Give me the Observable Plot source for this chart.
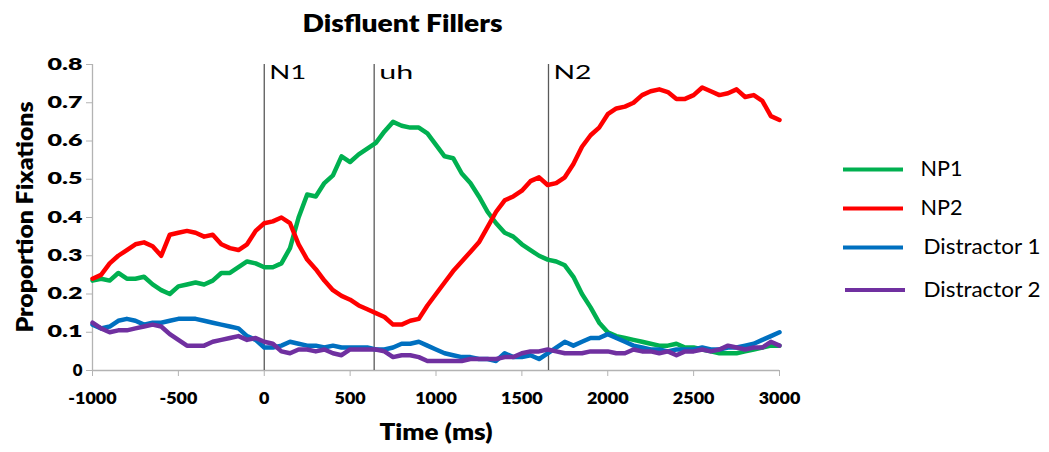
<!DOCTYPE html>
<html>
<head>
<meta charset="utf-8">
<script src="https://cdn.jsdelivr.net/npm/d3@7"></script>
<script src="https://cdn.jsdelivr.net/npm/@observablehq/plot@0.6"></script>
<style>
  html, body { margin: 0; padding: 0; background: #fff; }
  svg { display: block; }
</style>
</head>
<body>
<div id="chart"></div>
<script>
// ---- Data ----
const times = [
  -1000, -950, -900, -850, -800, -750, -700, -650, -600, -550,
  -500, -450, -400, -350, -300, -250, -200, -150, -100, -50,
  0, 50, 100, 150, 200, 250, 300, 350, 400, 450,
  500, 550, 600, 650, 700, 750, 800, 850, 900, 950,
  1000, 1050, 1100, 1150, 1200, 1250, 1300, 1350, 1400, 1450,
  1500, 1550, 1600, 1650, 1700, 1750, 1800, 1850, 1900, 1950,
  2000, 2050, 2100, 2150, 2200, 2250, 2300, 2350, 2400, 2450,
  2500, 2550, 2600, 2650, 2700, 2750, 2800, 2850, 2900, 2950,
  3000
];
const np1 = [
  0.235, 0.24, 0.235, 0.255, 0.24, 0.24, 0.245, 0.225, 0.21, 0.20,
  0.22, 0.225, 0.23, 0.225, 0.235, 0.255, 0.255, 0.27, 0.285, 0.28,
  0.27, 0.27, 0.28, 0.32, 0.40, 0.46, 0.455, 0.49, 0.51, 0.56,
  0.545, 0.565, 0.58, 0.595, 0.625, 0.65, 0.64, 0.635, 0.635, 0.62,
  0.59, 0.56, 0.555, 0.515, 0.49, 0.455, 0.415, 0.385, 0.36, 0.35,
  0.33, 0.315, 0.30, 0.29, 0.285, 0.275, 0.245, 0.20, 0.165, 0.125,
  0.10, 0.09, 0.085, 0.08, 0.075, 0.07, 0.065, 0.065, 0.07, 0.06,
  0.06, 0.055, 0.05, 0.045, 0.045, 0.045, 0.05, 0.055, 0.06, 0.065,
  0.065
];
const np2 = [
  0.24, 0.25, 0.28, 0.30, 0.315, 0.33, 0.335, 0.325, 0.30, 0.355,
  0.36, 0.365, 0.36, 0.35, 0.355, 0.33, 0.32, 0.315, 0.33, 0.365,
  0.385, 0.39, 0.40, 0.385, 0.33, 0.29, 0.265, 0.235, 0.21, 0.195,
  0.185, 0.17, 0.16, 0.15, 0.14, 0.12, 0.12, 0.13, 0.135, 0.17,
  0.20, 0.23, 0.26, 0.285, 0.31, 0.335, 0.375, 0.415, 0.445, 0.455,
  0.47, 0.495, 0.505, 0.485, 0.49, 0.505, 0.54, 0.585, 0.615, 0.635,
  0.67, 0.685, 0.69, 0.70, 0.72, 0.73, 0.735, 0.728, 0.71, 0.71,
  0.72, 0.74, 0.73, 0.72, 0.725, 0.735, 0.715, 0.72, 0.705, 0.665,
  0.655
];
const distractor1 = [
  0.12, 0.11, 0.115, 0.13, 0.135, 0.13, 0.12, 0.125, 0.125, 0.13,
  0.135, 0.135, 0.135, 0.13, 0.125, 0.12, 0.115, 0.11, 0.09, 0.08,
  0.06, 0.06, 0.065, 0.075, 0.07, 0.065, 0.065, 0.06, 0.065, 0.06,
  0.06, 0.06, 0.06, 0.055, 0.055, 0.06, 0.07, 0.07, 0.075, 0.065,
  0.055, 0.045, 0.04, 0.035, 0.035, 0.03, 0.03, 0.025, 0.045, 0.035,
  0.035, 0.04, 0.03, 0.045, 0.06, 0.075, 0.065, 0.075, 0.085, 0.085,
  0.095, 0.085, 0.075, 0.065, 0.06, 0.055, 0.055, 0.05, 0.055, 0.055,
  0.055, 0.06, 0.055, 0.055, 0.06, 0.06, 0.065, 0.07, 0.08, 0.09,
  0.10
];
const distractor2 = [
  0.125, 0.11, 0.10, 0.105, 0.105, 0.11, 0.115, 0.12, 0.115, 0.095,
  0.08, 0.065, 0.065, 0.065, 0.075, 0.08, 0.085, 0.09, 0.08, 0.085,
  0.075, 0.07, 0.05, 0.045, 0.055, 0.055, 0.05, 0.055, 0.045, 0.04,
  0.055, 0.055, 0.055, 0.055, 0.05, 0.035, 0.04, 0.04, 0.035, 0.025,
  0.025, 0.025, 0.025, 0.025, 0.03, 0.03, 0.03, 0.03, 0.035, 0.035,
  0.045, 0.05, 0.05, 0.055, 0.05, 0.045, 0.045, 0.045, 0.05, 0.05,
  0.05, 0.045, 0.045, 0.055, 0.05, 0.05, 0.045, 0.05, 0.04, 0.05,
  0.05, 0.055, 0.05, 0.055, 0.065, 0.06, 0.055, 0.06, 0.06, 0.075,
  0.065
];
const seriesNames = ["NP1", "NP2", "Distractor 1", "Distractor 2"];
const seriesColors = ["#00B050", "#FF0000", "#0070C0", "#7030A0"];
const markerTimes = [0, 640, 1655];
const markerLabels = ["N1", "uh", "N2"];
const xTicks = [-1000, -500, 0, 500, 1000, 1500, 2000, 2500, 3000];
const yTicks = [0, 0.1, 0.2, 0.3, 0.4, 0.5, 0.6, 0.7, 0.8];
const titleText = "Disfluent Fillers";
const xLabel = "Time (ms)";
const yLabel = "Proportion Fixations";

// ---- Table for Plot ----
const seriesValues = [np1, np2, distractor1, distractor2];
const rows = seriesNames.flatMap((name, k) =>
  times.map((t, i) => ({ t, v: seriesValues[k][i], series: name }))
);

const FONT = "Lato, 'Open Sans', sans-serif";
const chart = Plot.plot({
  width: 1049,
  height: 452,
  marginLeft: 92,
  marginRight: 270,
  marginTop: 64,
  marginBottom: 82,
  style: { fontFamily: FONT, fontSize: "16px", fontWeight: "800", color: "#000", background: "#fff", overflow: "visible" },
  x: { domain: [-1000, 3000] },
  y: { domain: [0, 0.8] },
  color: { domain: seriesNames, range: seriesColors },
  marks: [
    Plot.axisX({ ticks: xTicks, tickFormat: d => String(d), tickSize: 6, tickPadding: 16, stroke: "#b3b3b3", fill: "#000", label: null }),
    Plot.axisY({ ticks: yTicks, tickFormat: d => String(d), tickSize: 6, tickPadding: 4, stroke: "#b3b3b3", fill: "#000", label: null }),
    Plot.ruleY([0], { stroke: "#b3b3b3", strokeWidth: 1.3 }),
    Plot.ruleX([-1000], { stroke: "#b3b3b3", strokeWidth: 1.3 }),
    Plot.ruleX(markerTimes, { stroke: "#595959", strokeWidth: 1.3 }),
    Plot.text(markerTimes, {
      x: d => d, y: () => 0.8, text: (d, i) => markerLabels[i],
      textAnchor: "start", lineAnchor: "top", dx: 5, dy: 0.5,
      fontSize: 19, fontWeight: "normal", fill: "#000"
    }),
    Plot.line(rows, { x: "t", y: "v", z: "series", stroke: "series", strokeWidth: 4.5, curve: "linear" })
  ]
});

document.getElementById("chart").appendChild(chart);
const svg = d3.select(chart);

// Horizontal stretch of tick labels to match the reference's wide lettering
svg.selectAll('g[aria-label="x-axis tick label"] text').each(function () {
  const w = this.getComputedTextLength();
  d3.select(this).attr("textLength", w * 1.12).attr("lengthAdjust", "spacingAndGlyphs");
});
svg.selectAll('g[aria-label="y-axis tick label"] text').each(function () {
  const w = this.getComputedTextLength();
  const target = this.textContent.length > 1 ? 35 : w * 1.05;
  d3.select(this).attr("textLength", target).attr("lengthAdjust", "spacingAndGlyphs");
});
const markerWidths = [37, 34, 38];
svg.selectAll('g[aria-label="text"] text').each(function (d, i) {
  d3.select(this).attr("textLength", markerWidths[i]).attr("lengthAdjust", "spacingAndGlyphs");
});

// Title
svg.append("text")
  .attr("x", 402.5).attr("y", 31.7)
  .attr("text-anchor", "middle")
  .attr("font-family", FONT).attr("font-size", 24).attr("font-weight", "800").attr("fill", "#000")
  .attr("textLength", 200).attr("lengthAdjust", "spacingAndGlyphs")
  .text(titleText);

// Axis titles
svg.append("text")
  .attr("x", 436).attr("y", 440)
  .attr("text-anchor", "middle")
  .attr("font-family", FONT).attr("font-size", 22).attr("font-weight", "800").attr("fill", "#000")
  .attr("textLength", 113).attr("lengthAdjust", "spacingAndGlyphs")
  .text(xLabel);
svg.append("text")
  .attr("transform", "translate(33,217) rotate(-90)")
  .attr("text-anchor", "middle")
  .attr("font-family", FONT).attr("font-size", 22).attr("font-weight", "800").attr("fill", "#000")
  .attr("textLength", 231).attr("lengthAdjust", "spacingAndGlyphs")
  .text(yLabel);

// Legend
const legendY = [169.5, 208.5, 247.5, 290];
const legendTextW = [42, 42, 117, 117];
const legend = svg.append("g").attr("aria-label", "legend");
seriesNames.forEach((name, i) => {
  legend.append("line")
    .attr("x1", 843 + (i === 3 ? 2 : 0)).attr("x2", 903 + (i === 3 ? 2 : 0))
    .attr("y1", legendY[i]).attr("y2", legendY[i])
    .attr("stroke", seriesColors[i]).attr("stroke-width", 4);
  legend.append("text")
    .attr("x", i < 2 ? 920.5 : 923.5).attr("y", legendY[i] + 6.5)
    .attr("text-anchor", "start")
    .attr("font-family", FONT).attr("font-size", 21).attr("font-weight", "normal").attr("fill", "#000")
    .attr("textLength", legendTextW[i]).attr("lengthAdjust", "spacingAndGlyphs")
    .text(name);
});
</script>
</body>
</html>
